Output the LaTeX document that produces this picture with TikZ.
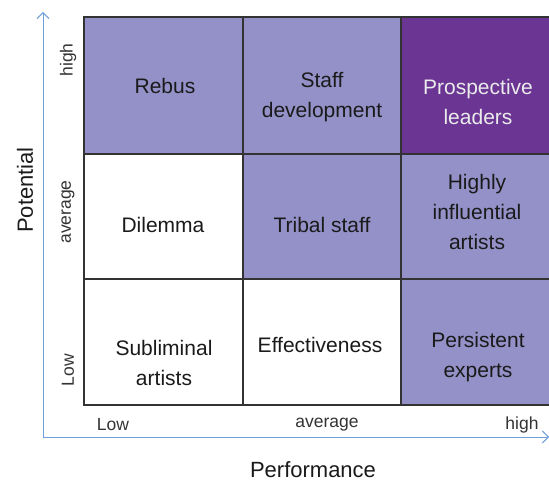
\documentclass[tikz,border=0pt]{standalone}
\usepackage{fontspec}
\setmainfont{Liberation Sans}
\usetikzlibrary{arrows.meta}
\definecolor{lightpur}{HTML}{9491C8}
\definecolor{darkpur}{HTML}{6B3594}
\definecolor{axisblue}{HTML}{6F9FD8}
\definecolor{txt}{HTML}{1A1A1A}
\definecolor{lbl}{HTML}{333333}
\tikzset{
  cell/.style={draw=black!80, line width=1.1pt},
  celltext/.style={font=\fontsize{21}{30}\selectfont, text=txt, align=center},
  axlbl/.style={font=\fontsize{17.5}{20}\selectfont, text=lbl},
  axtitle/.style={font=\fontsize{22}{25}\selectfont, text=txt},
  axisline/.style={draw=axisblue, line width=1pt, -{Straight Barb[length=6pt,width=12pt,line width=1pt]}}
}
\begin{document}
\begin{tikzpicture}[x=1pt,y=-1pt]
\useasboundingbox (0,0) rectangle (549,481);
\clip (0,0) rectangle (549,481);
% cells
\path[cell, fill=lightpur] (84,17) rectangle (243,154);
\path[cell, fill=lightpur] (243,17) rectangle (401,154);
\path[cell, fill=darkpur] (401,17) rectangle (570,154);
\path[cell, fill=white] (84,154) rectangle (243,279);
\path[cell, fill=lightpur] (243,154) rectangle (401,279);
\path[cell, fill=lightpur] (401,154) rectangle (570,279);
\path[cell, fill=white] (84,279) rectangle (243,405);
\path[cell, fill=white] (243,279) rectangle (401,405);
\path[cell, fill=lightpur] (401,279) rectangle (570,405);
% cell texts
\node[celltext] (rebus) at (165,86) {Rebus};
\node[celltext] (staff) at (322,97) {Staff\\development};
\node[celltext, text=white!92!black] (prosp) at (478,102) {Prospective\\leaders};
\node[celltext] (dilemma) at (163,225) {Dilemma};
\node[celltext] (tribal) at (322,225) {Tribal staff};
\node[celltext] (highly) at (477,212) {Highly\\influential\\artists};
\node[celltext] (subl) at (164,363) {Subliminal\\artists};
\node[celltext] (effect) at (320,345) {Effectiveness};
\node[celltext] (persist) at (478,357) {Persistent\\experts};
% axis value labels
\node[axlbl, rotate=90] (yhigh) at (68,60) {high};
\node[axlbl, rotate=90] (yavg) at (68,212) {average};
\node[axlbl, rotate=90] (ylow) at (68,370) {Low};
\node[axlbl] (xlow) at (113,425) {Low};
\node[axlbl] (xavg) at (327,425) {average};
\node[axlbl] (xhigh) at (522,425) {high};
% axes
\coordinate (origin) at (43,437);
\coordinate (ytop) at (43,12);
\coordinate (xend) at (549,437);
\draw[axisline] (origin) -- (ytop);
\draw[axisline] (origin) -- (xend);
% axis titles
\node[axtitle, rotate=90] (pot) at (25,190) {Potential};
\node[axtitle] (perf) at (313,470) {Performance};
\end{tikzpicture}
\end{document}
